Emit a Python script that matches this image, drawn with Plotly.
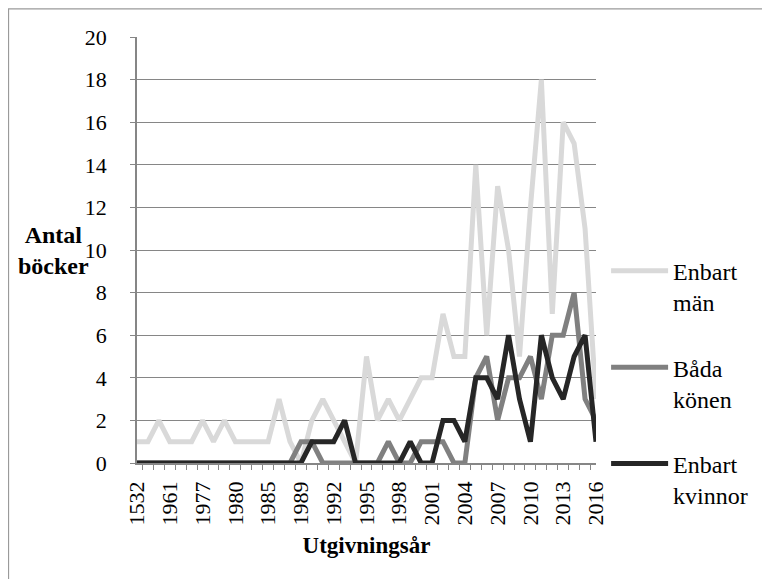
import plotly.graph_objects as go

categories = ["1532", "1887", "1943", "1961", "1966", "1972", "1977", "1978", "1979",
              "1980", "1981", "1983", "1985", "1986", "1988", "1989", "1990", "1991",
              "1992", "1993", "1994", "1995", "1996", "1997", "1998", "1999", "2000",
              "2001", "2002", "2003", "2004", "2005", "2006", "2007", "2008", "2009",
              "2010", "2011", "2012", "2013", "2014", "2015", "2016"]

enbart_man = [1, 1, 2, 1, 1, 1, 2, 1, 2, 1, 1, 1, 1, 3, 1, 0, 2, 3, 2, 1, 0, 5, 2, 3, 2, 3,
              4, 4, 7, 5, 5, 14, 6, 13, 10, 5, 12, 18, 7, 16, 15, 11, 3]
bada_konen = [0, 0, 0, 0, 0, 0, 0, 0, 0, 0, 0, 0, 0, 0, 0, 1, 1, 0, 0, 0, 0, 0, 0, 1, 0, 0,
              1, 1, 1, 0, 0, 4, 5, 2, 4, 4, 5, 3, 6, 6, 8, 3, 2]
enbart_kvinnor = [0, 0, 0, 0, 0, 0, 0, 0, 0, 0, 0, 0, 0, 0, 0, 0, 1, 1, 1, 2, 0, 0, 0, 0, 0, 1,
                  0, 0, 2, 2, 1, 4, 4, 3, 6, 3, 1, 6, 4, 3, 5, 6, 1]

series_names = ["Enbart<br>män", "Båda<br>könen", "Enbart<br>kvinnor"]
series_colors = ["#d9d9d9", "#808080", "#262626"]
tick_labels = [c if i % 3 == 0 else "" for i, c in enumerate(categories)]

FONT = "Liberation Serif"

fig = go.Figure()
for name, vals, col, grp in zip(series_names, [enbart_man, bada_konen, enbart_kvinnor],
                                series_colors, ["a", "b", "c"]):
    fig.add_trace(go.Scatter(x=categories, y=vals, mode="lines", name=name,
                             legendgroup=grp,
                             line=dict(color=col, width=5, shape="linear"),
                             hoverinfo="skip"))

# page body adds an 8px offset, margins compensate
L, R, T, B = 129, 182, 29, 124

fig.update_layout(
    width=770, height=579,
    margin=dict(l=L, r=R, t=T, b=B),
    paper_bgcolor="white", plot_bgcolor="white",
    font=dict(family=FONT, size=22, color="#000000"),
    showlegend=True,
    legend=dict(x=1.022, xanchor="left", y=0.503, yanchor="top",
                font=dict(family=FONT, size=24), valign="top",
                traceorder="grouped", tracegroupgap=31,
                itemwidth=57, bgcolor="rgba(0,0,0,0)"),
    xaxis=dict(type="category", tickmode="array", tickvals=categories, ticktext=tick_labels,
               tickangle=-90, tickson="boundaries", ticks="outside", ticklen=5,
               tickcolor="#868686", tickwidth=1.3,
               showline=True, linecolor="#868686", linewidth=1.5,
               showgrid=False, zeroline=False,
               tickfont=dict(family=FONT, size=22), ticklabelstandoff=8,
               title=dict(text="<b>Utgivningsår</b>", font=dict(family=FONT, size=23),
                          standoff=12)),
    yaxis=dict(range=[0, 20], dtick=2, ticks="outside", ticklen=5, tickcolor="#868686",
               tickwidth=1.3, showline=True, linecolor="#868686", linewidth=1.5,
               showgrid=True, gridcolor="#868686", gridwidth=1.3, zeroline=False,
               tickfont=dict(family=FONT, size=22), ticklabelstandoff=19),
    annotations=[dict(text="<b>Antal<br>böcker</b>", xref="paper", yref="paper",
                      x=-0.183, y=0.498, xanchor="center", yanchor="middle",
                      showarrow=False, font=dict(family=FONT, size=24), align="center")],
    shapes=[dict(type="path", xref="paper", yref="paper",
                 path="M -0.280,-0.3 L -0.280,1.066 L 1.5,1.066",
                 line=dict(color="#9a9a9a", width=1.3), layer="above")],
)

fig.write_html("out.html")
